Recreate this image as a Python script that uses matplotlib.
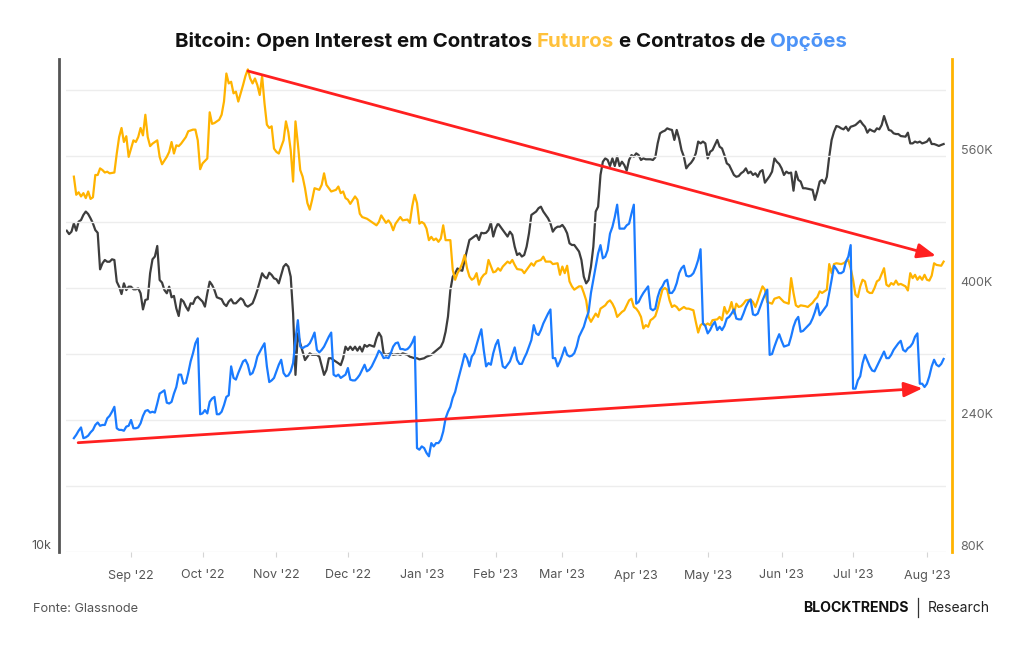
import numpy as np
import pandas as pd
import matplotlib
matplotlib.use("Agg")
import matplotlib.pyplot as plt
import matplotlib.dates as mdates
import matplotlib.transforms as mtransforms
from matplotlib.ticker import NullLocator
from matplotlib.lines import Line2D

plt.rcParams['font.family'] = ['Inter', 'DejaVu Sans']

# ---------------- data (days counted from 2022-09-01) ----------------
START = "2022-09-01"

# Futures open interest (thousand BTC) - right axis
fut_days = [-24, -23, -22, -21, -20, -19, -18, -17, -16, -15,
            -14, -13, -12, -11, -10, -9, -7, -6, -5, -4,
            -3, -2, -1, 0, 1, 2, 3, 4, 5, 6,
            7, 8, 9, 11, 12, 13, 15, 16, 17, 18,
            19, 20, 21, 23, 24, 26, 27, 28, 29, 30,
            32, 33, 34, 35, 37, 38, 39, 40, 41, 42,
            43, 44, 45, 46, 47, 48, 49, 50, 51, 52,
            53, 54, 55, 56, 57, 58, 59, 60, 61, 62,
            64, 65, 66, 67, 68, 69, 70, 71, 72, 73,
            74, 75, 76, 77, 79, 80, 81, 82, 84, 85,
            86, 87, 88, 89, 90, 91, 92, 94, 95, 96,
            97, 99, 100, 102, 103, 104, 105, 107, 108, 109,
            110, 111, 113, 114, 116, 117, 118, 119, 120, 121,
            122, 123, 124, 125, 126, 127, 128, 129, 130, 131,
            132, 134, 135, 136, 137, 138, 139, 140, 141, 142,
            143, 144, 145, 146, 147, 148, 149, 150, 152, 153,
            154, 155, 156, 158, 159, 160, 161, 162, 164, 165,
            167, 168, 169, 170, 172, 173, 174, 176, 177, 179,
            180, 181, 182, 183, 184, 185, 186, 188, 189, 190,
            191, 192, 193, 195, 196, 197, 199, 200, 201, 202,
            203, 204, 206, 207, 209, 210, 211, 212, 213, 214,
            215, 216, 217, 218, 219, 220, 221, 222, 223, 224,
            225, 226, 227, 228, 229, 230, 232, 233, 234, 236,
            237, 238, 239, 240, 241, 242, 243, 244, 246, 247,
            248, 249, 250, 251, 252, 253, 254, 255, 256, 257,
            258, 260, 261, 262, 263, 264, 265, 266, 267, 269,
            270, 272, 273, 274, 276, 277, 278, 279, 280, 281,
            283, 284, 286, 287, 288, 289, 290, 292, 293, 294,
            295, 296, 298, 299, 300, 301, 302, 303, 304, 305,
            306, 307, 308, 309, 310, 311, 312, 313, 314, 316,
            317, 318, 319, 320, 321, 322, 323, 325, 326, 327,
            328, 329, 330, 331, 332, 333, 334, 335, 336, 337,
            338, 340, 341]
fut_oi_k = [535, 513, 516, 511, 515, 509, 517, 508, 510, 537,
            537, 545, 543, 540, 541, 539, 540, 563, 583, 594,
            577, 584, 559, 569, 579, 577, 583, 594, 585, 610,
            583, 572, 575, 579, 559, 550, 559, 565, 577, 563,
            573, 572, 575, 583, 590, 592, 592, 579, 544, 551,
            557, 613, 599, 600, 604, 610, 626, 660, 648, 650,
            636, 638, 626, 636, 646, 657, 665, 654, 648, 654,
            646, 634, 657, 624, 598, 594, 596, 569, 565, 563,
            579, 602, 589, 567, 529, 602, 575, 543, 535, 521,
            503, 495, 507, 521, 519, 525, 539, 525, 517, 518,
            519, 523, 515, 517, 509, 507, 502, 511, 507, 490,
            486, 484, 482, 478, 476, 480, 488, 479, 482, 478,
            470, 478, 486, 482, 483, 479, 499, 513, 503, 478,
            480, 478, 472, 458, 462, 458, 460, 456, 460, 476,
            458, 458, 422, 410, 418, 423, 430, 440, 424, 414,
            410, 412, 418, 404, 412, 416, 418, 434, 419, 420,
            424, 421, 426, 432, 430, 434, 428, 423, 422, 418,
            426, 430, 427, 432, 434, 438, 432, 432, 429, 430,
            416, 426, 418, 427, 408, 402, 398, 402, 402, 394,
            385, 365, 359, 369, 365, 375, 379, 383, 385, 381,
            375, 365, 371, 373, 385, 387, 377, 375, 371, 365,
            351, 355, 353, 361, 363, 366, 375, 387, 398, 400,
            398, 385, 377, 379, 377, 373, 377, 375, 375, 373,
            359, 346, 355, 357, 355, 357, 355, 361, 362, 365,
            361, 377, 369, 373, 383, 369, 381, 377, 378, 381,
            385, 386, 383, 377, 385, 394, 402, 398, 383, 381,
            387, 389, 386, 383, 381, 412, 394, 379, 377, 379,
            378, 377, 382, 386, 389, 396, 394, 398, 429, 418,
            429, 430, 429, 430, 432, 434, 424, 410, 392, 389,
            402, 410, 408, 396, 394, 394, 400, 408, 410, 424,
            404, 402, 406, 404, 409, 404, 405, 402, 397, 418,
            412, 416, 410, 414, 410, 416, 410, 409, 415, 430,
            428, 427, 432]

# Bitcoin price (thousand USD) - left log axis
price_days = [-27, -26, -25, -24, -23, -22, -21, -20, -19, -18,
              -17, -16, -15, -14, -13, -12, -11, -10, -9, -8,
              -7, -6, -5, -4, -3, -2, -1, 0, 1, 2,
              3, 4, 5, 6, 7, 8, 9, 10, 11, 12,
              13, 14, 15, 16, 17, 18, 19, 20, 21, 22,
              23, 24, 25, 26, 27, 28, 29, 30, 31, 32,
              33, 34, 35, 36, 37, 38, 39, 40, 41, 42,
              43, 44, 46, 47, 48, 49, 50, 51, 52, 53,
              54, 55, 56, 57, 58, 59, 60, 61, 62, 63,
              64, 65, 66, 67, 68, 69, 70, 71, 72, 73,
              74, 75, 76, 78, 79, 81, 82, 83, 84, 85,
              86, 87, 88, 89, 90, 91, 92, 93, 94, 95,
              96, 97, 98, 99, 100, 102, 103, 104, 105, 106,
              107, 109, 110, 112, 113, 114, 116, 117, 119, 120,
              121, 123, 124, 126, 127, 128, 130, 131, 132, 133,
              134, 135, 136, 137, 138, 139, 140, 141, 142, 143,
              144, 145, 146, 147, 148, 149, 150, 151, 152, 153,
              154, 155, 156, 157, 158, 159, 160, 161, 162, 163,
              164, 165, 166, 167, 168, 169, 170, 171, 172, 173,
              174, 175, 176, 177, 178, 179, 180, 181, 182, 183,
              184, 185, 186, 187, 188, 189, 190, 191, 192, 193,
              194, 195, 196, 197, 198, 199, 200, 201, 202, 203,
              204, 205, 206, 207, 208, 209, 210, 211, 212, 213,
              214, 215, 216, 218, 219, 220, 221, 222, 223, 224,
              225, 226, 227, 228, 229, 230, 231, 232, 233, 234,
              235, 236, 237, 238, 239, 240, 241, 242, 243, 244,
              245, 246, 247, 248, 249, 250, 251, 252, 253, 254,
              255, 256, 257, 258, 259, 260, 261, 262, 263, 264,
              265, 266, 267, 268, 269, 270, 271, 272, 273, 274,
              275, 276, 277, 278, 279, 280, 281, 282, 283, 285,
              286, 287, 288, 289, 290, 291, 292, 293, 294, 295,
              296, 297, 298, 299, 300, 301, 302, 303, 304, 306,
              307, 308, 309, 310, 311, 312, 313, 314, 315, 316,
              317, 318, 319, 320, 321, 322, 323, 325, 326, 327,
              328, 329, 330, 331, 332, 333, 334, 335, 336, 337,
              338, 339, 340, 341]
price_k = [23.43, 23.22, 23.37, 23.89, 23.43, 24.00, 24.10, 24.43, 24.65, 24.49,
           24.21, 23.89, 23.47, 23.30, 21.15, 21.49, 21.68, 21.58, 21.58, 21.72,
           21.68, 20.47, 20.20, 19.81, 20.38, 20.02, 20.20, 20.20, 20.06, 20.06,
           20.11, 19.85, 19.02, 19.50, 19.54, 20.93, 21.72, 21.88, 22.50, 20.56,
           20.42, 20.02, 19.85, 20.20, 19.64, 19.71, 19.07, 18.69, 19.54, 19.42,
           19.16, 18.96, 19.33, 19.30, 19.59, 19.67, 19.54, 19.42, 19.16, 19.85,
           20.47, 20.29, 20.02, 19.64, 19.59, 19.54, 19.30, 19.19, 19.42, 19.54,
           19.33, 19.33, 19.59, 19.50, 19.24, 19.16, 19.24, 19.33, 19.64, 20.02,
           20.47, 20.93, 20.74, 20.65, 20.96, 20.84, 20.65, 20.60, 20.38, 20.84,
           21.30, 21.45, 21.30, 20.74, 18.82, 15.99, 17.85, 17.38, 17.01, 16.63,
           16.78, 16.93, 16.86, 16.86, 16.78, 15.99, 16.20, 16.71, 16.71, 16.63,
           16.56, 16.49, 16.41, 16.71, 17.23, 17.08, 17.23, 17.08, 17.23, 17.05,
           17.23, 17.01, 17.31, 17.23, 17.31, 17.23, 17.62, 17.88, 17.69, 16.93,
           16.86, 16.93, 16.86, 16.90, 16.86, 16.93, 16.86, 16.78, 16.71, 16.71,
           16.66, 16.71, 16.78, 16.86, 16.96, 17.05, 17.23, 17.46, 17.93, 18.66,
           20.02, 20.74, 20.93, 21.20, 21.11, 21.07, 21.68, 22.26, 22.86, 22.96,
           23.07, 23.17, 22.86, 23.30, 23.27, 23.30, 23.47, 23.93, 23.07, 23.58,
           23.89, 23.68, 23.47, 23.27, 23.07, 23.37, 23.17, 22.46, 21.97, 22.07,
           21.88, 21.97, 22.46, 23.27, 24.43, 24.54, 24.65, 24.87, 24.97, 24.65,
           24.43, 24.21, 23.89, 23.37, 23.58, 23.68, 23.68, 23.79, 23.58, 23.27,
           22.66, 22.56, 22.56, 22.36, 22.17, 21.68, 20.74, 20.38, 20.56, 21.30,
           22.46, 24.65, 24.97, 27.16, 28.13, 28.38, 28.26, 27.81, 28.38, 27.81,
           28.51, 27.81, 28.13, 27.88, 27.47, 28.26, 28.63, 28.51, 28.76, 28.63,
           28.26, 28.38, 28.31, 28.31, 28.26, 28.46, 29.53, 30.33, 30.46, 30.54,
           30.73, 30.65, 30.60, 29.80, 30.60, 29.92, 29.01, 28.51, 27.64, 27.88,
           28.05, 28.31, 28.76, 29.67, 29.53, 29.67, 29.53, 28.38, 28.88, 29.01,
           29.41, 29.80, 29.27, 29.14, 28.63, 28.01, 27.88, 27.51, 27.16, 27.03,
           27.08, 27.28, 27.40, 27.64, 27.28, 27.40, 27.16, 27.28, 27.03, 27.40,
           27.51, 26.61, 26.85, 27.08, 27.40, 28.38, 28.13, 27.96, 27.64, 27.16,
           27.40, 27.28, 27.33, 26.05, 27.40, 26.81, 26.69, 26.22, 26.22, 26.15,
           26.11, 25.42, 25.99, 26.69, 26.81, 26.56, 27.03, 28.51, 29.80, 30.46,
           30.92, 30.86, 30.73, 30.65, 30.86, 30.54, 30.86, 30.92, 31.00, 31.36,
           31.08, 30.86, 30.38, 30.65, 30.54, 30.46, 30.73, 30.65, 31.00, 31.75,
           31.14, 30.60, 30.54, 30.33, 30.27, 30.27, 30.11, 30.06, 30.38, 29.53,
           29.53, 29.67, 29.59, 29.67, 29.53, 29.59, 29.67, 29.92, 29.48, 29.48,
           29.41, 29.33, 29.41, 29.48]

# Options open interest (thousand BTC) - right axis
opt_days = [-24, -23, -22, -21, -20, -19, -18, -17, -16, -15,
            -14, -13, -12, -11, -10, -9, -8, -7, -6, -5,
            -4, -3, -2, -1, 0, 1, 2, 3, 4, 5,
            6, 7, 8, 9, 10, 11, 12, 13, 14, 15,
            16, 17, 18, 19, 20, 21, 22, 23, 24, 25,
            26, 27, 28, 29, 30, 31, 32, 33, 34, 35,
            36, 37, 38, 39, 40, 41, 42, 43, 44, 45,
            46, 47, 48, 49, 50, 51, 52, 53, 55, 56,
            57, 58, 59, 60, 61, 62, 63, 64, 65, 66,
            67, 68, 69, 70, 71, 72, 73, 74, 75, 76,
            77, 78, 79, 80, 81, 82, 83, 84, 85, 86,
            87, 88, 89, 90, 91, 92, 93, 94, 95, 96,
            97, 98, 99, 100, 101, 102, 103, 104, 105, 106,
            107, 108, 109, 110, 111, 112, 113, 114, 115, 116,
            117, 118, 119, 120, 121, 122, 123, 124, 125, 126,
            127, 128, 129, 130, 131, 132, 133, 134, 135, 136,
            137, 138, 139, 140, 141, 142, 143, 144, 145, 146,
            147, 148, 149, 150, 151, 152, 153, 154, 155, 156,
            157, 158, 159, 160, 161, 162, 163, 164, 165, 166,
            167, 168, 169, 170, 171, 172, 173, 174, 175, 176,
            177, 178, 179, 180, 181, 182, 183, 184, 185, 186,
            187, 188, 189, 190, 191, 192, 193, 194, 195, 196,
            197, 198, 199, 200, 201, 202, 203, 204, 205, 206,
            207, 208, 209, 210, 211, 212, 213, 214, 215, 216,
            217, 218, 219, 220, 221, 222, 223, 224, 225, 226,
            227, 228, 229, 230, 231, 232, 233, 234, 235, 236,
            237, 238, 239, 240, 241, 242, 243, 244, 245, 246,
            247, 248, 249, 250, 251, 252, 253, 254, 255, 256,
            257, 258, 259, 260, 261, 262, 263, 264, 265, 266,
            267, 268, 269, 270, 271, 272, 273, 274, 275, 276,
            277, 278, 279, 280, 281, 282, 283, 285, 286, 287,
            288, 289, 290, 292, 293, 294, 295, 296, 297, 298,
            299, 300, 301, 302, 303, 304, 305, 306, 307, 308,
            310, 311, 312, 313, 314, 315, 316, 317, 318, 319,
            320, 321, 322, 323, 324, 325, 326, 327, 328, 329,
            330, 331, 332, 333, 334, 335, 336, 337, 338, 339,
            340, 341]
opt_oi_k = [218, 222, 227, 231, 218, 219, 221, 225, 228, 234,
            237, 233, 234, 234, 242, 245, 250, 256, 230, 228,
            228, 227, 232, 233, 240, 230, 230, 231, 236, 245,
            251, 252, 249, 250, 249, 260, 272, 274, 276, 261,
            260, 262, 272, 280, 295, 295, 284, 285, 297, 311,
            321, 333, 339, 247, 248, 252, 248, 262, 266, 268,
            247, 247, 250, 258, 268, 270, 305, 291, 289, 297,
            304, 311, 313, 307, 295, 297, 305, 317, 328, 333,
            305, 286, 288, 291, 299, 307, 313, 297, 293, 294,
            299, 309, 337, 361, 329, 327, 329, 330, 333, 339,
            346, 325, 322, 325, 329, 335, 341, 346, 295, 293,
            295, 291, 293, 295, 303, 289, 288, 288, 291, 295,
            301, 307, 299, 301, 305, 311, 317, 324, 321, 315,
            316, 315, 321, 329, 333, 334, 326, 326, 325, 326,
            329, 334, 341, 206, 204, 208, 206, 200, 196, 212,
            208, 212, 212, 216, 226, 242, 250, 256, 267, 274,
            286, 297, 308, 320, 315, 305, 317, 321, 331, 341,
            350, 325, 305, 309, 307, 321, 331, 337, 321, 305,
            303, 307, 311, 319, 328, 313, 308, 308, 315, 321,
            329, 337, 355, 345, 343, 349, 357, 363, 369, 374,
            315, 315, 305, 311, 319, 328, 319, 317, 318, 321,
            329, 341, 347, 353, 363, 371, 394, 410, 426, 442,
            452, 436, 438, 446, 466, 474, 486, 501, 472, 472,
            472, 476, 478, 490, 501, 381, 383, 389, 394, 398,
            402, 375, 373, 375, 389, 398, 402, 408, 410, 394,
            394, 398, 406, 418, 424, 427, 415, 414, 415, 418,
            425, 434, 447, 357, 354, 345, 349, 355, 359, 349,
            353, 349, 354, 363, 365, 369, 374, 363, 362, 362,
            369, 377, 383, 386, 368, 367, 369, 377, 385, 392,
            398, 319, 320, 329, 337, 344, 336, 329, 330, 331,
            341, 353, 361, 365, 347, 348, 351, 357, 363, 371,
            381, 367, 371, 379, 394, 410, 427, 423, 418, 418,
            420, 432, 438, 452, 278, 278, 288, 293, 309, 319,
            305, 300, 299, 305, 311, 317, 323, 315, 315, 319,
            325, 329, 333, 336, 325, 323, 327, 329, 333, 341,
            345, 284, 284, 280, 284, 293, 305, 313, 307, 305,
            308, 314]

# axis ticks / labels
month_ticks = pd.date_range("2022-09-01", "2023-08-01", freq="MS")
right_ticks_k = [80, 240, 400, 560]
right_tick_labels = ["80K", "240K", "400K", "560K"]
right_grid_k = [160, 320, 480, 640]
left_ticks = [10000]
left_tick_labels = ["10k"]

# trend arrows (start day, start value K) -> (end day, end value K)
arrow_start_days = [49.1, -22.2]
arrow_start_k = [663.0, 212.5]
arrow_end_days = [337.8, 332.2]
arrow_end_k = [439.0, 278.4]

title_parts = ["Bitcoin: Open Interest em Contratos", "Futuros", "e Contratos de", "Opções"]
title_colors = ["#111111", "#FFC13B", "#111111", "#4C93F7"]

# ---------------- styling ----------------
C_FUT = "#FFB300"
C_OPT = "#1A7BFF"
C_PRICE = "#3D3D3D"
C_RED = "#FF2020"

assert len(fut_days) == len(fut_oi_k)
assert len(price_days) == len(price_k)
assert len(opt_days) == len(opt_oi_k)

W, H = 1024, 645
fig = plt.figure(figsize=(W / 100, H / 100), dpi=100)
fig.patch.set_facecolor("white")

ax = fig.add_axes([66 / W, 1 - 552 / H, (946 - 66) / W, (552 - 59) / H])
ax2 = ax.twinx()

d0 = pd.Timestamp(START)


def to_dates(days):
    return d0 + pd.to_timedelta(np.asarray(days, dtype=float), unit="D")


# price on left log axis
ax.plot(to_dates(price_days), np.asarray(price_k) * 1000, color=C_PRICE, lw=1.6,
        solid_joinstyle="round", zorder=3)
ax.set_yscale("log")
ax.set_ylim(10000, 36930)
ax.set_xlim(to_dates([-27.3, 342.0]))

# open interest on right axis
ax2.plot(to_dates(fut_days), fut_oi_k, color=C_FUT, lw=1.6, solid_joinstyle="round", zorder=3)
ax2.plot(to_dates(opt_days), opt_oi_k, color=C_OPT, lw=1.6, solid_joinstyle="round", zorder=4)
ax2.set_ylim(80, 677.6)

# grid (every 80K)
ax2.set_yticks(right_ticks_k)
ax2.set_yticks(right_grid_k, minor=True)
ax2.grid(True, which="both", axis="y", color="#EDEDED", lw=1.0, zorder=0)
ax2.set_axisbelow(True)
ax2.tick_params(axis="y", which="both", length=0, labelright=False, labelleft=False)

# x ticks
ax.set_xticks(month_ticks)
ax.xaxis.set_major_formatter(mdates.DateFormatter("%b '%y"))
ax.xaxis.set_minor_locator(NullLocator())
ax.tick_params(axis="x", length=3.6, width=0.8, color="#D5D5D5", labelcolor="#555555",
               labelsize=9, pad=9)

# left y axis: ticks without default labels
ax.set_yticks(left_ticks)
ax.yaxis.set_minor_locator(NullLocator())
ax.tick_params(axis="y", which="both", length=0, labelleft=False)

# tick labels drawn slightly above their grid values
right_lab_tr = mtransforms.offset_copy(
    mtransforms.blended_transform_factory(ax2.transAxes, ax2.transData),
    fig=fig, x=14.7 * 0.72, y=5.5 * 0.72, units="points")
for v, s in zip(right_ticks_k, right_tick_labels):
    ax2.text(1.0, v, s, transform=right_lab_tr, ha="left", va="center",
             fontsize=9, color="#666666", clip_on=False)
left_lab_tr = mtransforms.offset_copy(
    mtransforms.blended_transform_factory(ax.transAxes, ax.transData),
    fig=fig, x=-14.3 * 0.72, y=6.0 * 0.72, units="points")
for v, s in zip(left_ticks, left_tick_labels):
    ax.text(0.0, v, s, transform=left_lab_tr, ha="right", va="center",
            fontsize=9, color="#555555", clip_on=False)

# spines
for s in ["top", "right", "bottom"]:
    ax.spines[s].set_visible(False)
for s in ["top", "left", "bottom"]:
    ax2.spines[s].set_visible(False)
ax.spines["left"].set_color("#555555")
ax.spines["left"].set_linewidth(2.0)
ax.spines["left"].set_position(("outward", 4.7))
ax2.spines["right"].set_color(C_FUT)
ax2.spines["right"].set_linewidth(2.0)
ax2.spines["right"].set_position(("outward", 4.3))

# trend arrows
for sd, sv, ed, ev in zip(arrow_start_days, arrow_start_k, arrow_end_days, arrow_end_k):
    xs = mdates.date2num(d0 + pd.Timedelta(days=sd))
    xe = mdates.date2num(d0 + pd.Timedelta(days=ed))
    ax2.annotate("", xy=(xe, ev), xytext=(xs, sv), xycoords="data", textcoords="data",
                 arrowprops=dict(arrowstyle="-|>,head_length=0.8,head_width=0.32",
                                 color=C_RED, lw=2.0, shrinkA=0, shrinkB=0,
                                 mutation_scale=14),
                 zorder=10)

# ---------------- texts ----------------
fig.canvas.draw()
renderer = fig.canvas.get_renderer()


def text_width(s, **kw):
    t = fig.text(0, 0, s, **kw)
    w = t.get_window_extent(renderer).width
    t.remove()
    return w


full_title = " ".join(title_parts)
tkw = dict(fontweight="bold")
fs = 14.0 * 674.0 / text_width(full_title, fontsize=14, **tkw)
x_left = 512 - 674 / 2
prefixes = []
acc = ""
for i, p in enumerate(title_parts):
    acc = p if i == 0 else acc + " " + p
    prefixes.append(acc)
for p, pre, col in zip(title_parts, prefixes, title_colors):
    start = text_width(pre, fontsize=fs, **tkw) - text_width(p, fontsize=fs, **tkw)
    fig.text((x_left + start) / W, 1 - 47 / H, p, fontsize=fs, color=col,
             ha="left", va="baseline", **tkw)

fs_src = 9.5 * 105.0 / text_width("Fonte: Glassnode", fontsize=9.5)
fig.text(33 / W, 1 - 612 / H, "Fonte: Glassnode", fontsize=fs_src, color="#555555",
         ha="left", va="baseline")

fs_bt = 10 * 106.0 / text_width("BLOCKTRENDS", fontsize=10, fontweight="bold")
fig.text(909 / W, 1 - 612 / H, "BLOCKTRENDS", fontsize=fs_bt, fontweight="bold",
         color="#111111", ha="right", va="baseline")
fs_rs = 10 * 62.0 / text_width("Research", fontsize=10)
fig.text(928 / W, 1 - 612 / H, "Research", fontsize=fs_rs, color="#222222",
         ha="left", va="baseline")
fig.add_artist(Line2D([918 / W, 918 / W], [1 - 598 / H, 1 - 617 / H], color="#333333",
                      lw=0.9, transform=fig.transFigure))

fig.savefig("out.png", dpi=100, facecolor="white")
